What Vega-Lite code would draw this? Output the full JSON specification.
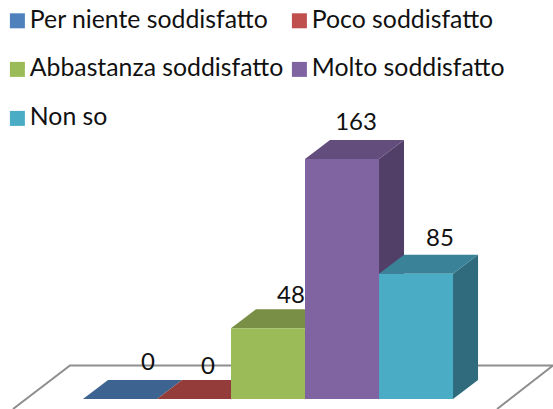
{
"$schema":"https://vega.github.io/schema/vega-lite/v6.json",
"width":553,"height":409,"padding":0,"autosize":{"type":"none"},
"background":"white","config":{"view":{"stroke":null}},
"datasets":{
"bars":[
{"category":"Per niente soddisfatto","pos":0,"value":0},
{"category":"Poco soddisfatto","pos":1,"value":0},
{"category":"Abbastanza soddisfatto","pos":2,"value":48},
{"category":"Molto soddisfatto","pos":3,"value":163},
{"category":"Non so","pos":4,"value":85}],
"floor":[
{"step":0,"u":-0.946,"v":-6.79},
{"step":1,"u":-0.176,"v":22.8},
{"step":2,"u":6.351,"v":22.8},
{"step":3,"u":5.595,"v":-6.79}]},
"resolve":{"scale":{"color":"independent"}},
"layer":[
{"data":{"name":"floor"},
"mark":{"type":"line","color":"#8e8e8e","strokeWidth":2,"clip":true},
"encoding":{
"x":{"field":"u","type":"quantitative","scale":{"domain":[-1.1216,6.351],"nice":false,"zero":false},"axis":null},
"y":{"field":"v","type":"quantitative","scale":{"domain":[-6.79,271],"nice":false,"zero":false},"axis":null},
"order":{"field":"step","type":"quantitative"}}},
{"data":{"name":"bars"},
"transform":[{"calculate":"[0,1]","as":"s"},{"flatten":["s"]},
{"calculate":"datum.pos+1+0.338*datum.s","as":"sx"},
{"calculate":"datum.value+12.9*datum.s","as":"sy"},
{"calculate":"12.9*datum.s","as":"sy2"}],
"mark":{"type":"area","interpolate":"linear"},
"encoding":{
"x":{"field":"sx","type":"quantitative","axis":null},
"y":{"field":"sy","type":"quantitative","stack":null,"axis":null},
"y2":{"field":"sy2"},
"color":{"field":"category","type":"nominal","legend":null,
"scale":{"domain":["Per niente soddisfatto","Poco soddisfatto","Abbastanza soddisfatto","Molto soddisfatto","Non so"],"range":["#2f4d71","#733130","#5d7135","#523f68","#2f6b7c"]}}}},
{"data":{"name":"bars"},
"transform":[{"calculate":"[0,1,2,3]","as":"t"},{"flatten":["t"]},
{"calculate":"datum.pos+[0,0.338,1,1.338][datum.t]","as":"tx"},
{"calculate":"datum.value+[0,12.9,12.9,12.9][datum.t]","as":"ty"},
{"calculate":"datum.value+[0,0,0,12.9][datum.t]","as":"ty2"}],
"mark":{"type":"area","interpolate":"linear"},
"encoding":{
"x":{"field":"tx","type":"quantitative","axis":null},
"y":{"field":"ty","type":"quantitative","stack":null,"axis":null},
"y2":{"field":"ty2"},
"color":{"field":"category","type":"nominal","legend":null,
"scale":{"domain":["Per niente soddisfatto","Poco soddisfatto","Abbastanza soddisfatto","Molto soddisfatto","Non so"],"range":["#3d6391","#943c3a","#788f45","#634d7d","#3a8298"]}}}},
{"data":{"name":"bars"},
"transform":[{"calculate":"datum.pos+1","as":"right"},{"calculate":"0","as":"base"}],
"mark":{"type":"rect"},
"encoding":{
"x":{"field":"pos","type":"quantitative","axis":null},
"x2":{"field":"right"},
"y":{"field":"value","type":"quantitative","axis":null},
"y2":{"field":"base"},
"color":{"field":"category","type":"nominal",
"scale":{"domain":["Per niente soddisfatto","Poco soddisfatto","Abbastanza soddisfatto","Molto soddisfatto","Non so"],"range":["#4f81bd","#c0504d","#9bbb59","#8064a2","#4bacc6"]},
"legend":{"title":null,"orient":"none","legendX":5,"legendY":8,"direction":"horizontal","columns":2,"gridAlign":"each","columnPadding":3,"rowPadding":23,"symbolType":"square","symbolSize":225,"symbolStrokeWidth":0,"labelFont":"Lato","labelFontSize":24.8,"labelColor":"#111111","labelOffset":0,"labelLimit":400}}}},
{"data":{"name":"bars"},
"transform":[{"calculate":"datum.pos+0.838","as":"lx"},{"calculate":"datum.value+12.9","as":"ly"}],
"mark":{"type":"text","font":"Lato","fontSize":24,"color":"#111111","baseline":"middle","align":"center",
"dx":{"expr":"[3,-11,-2,-11,-1][datum.pos]"},"dy":{"expr":"[-17,-13,-13,-17,-16][datum.pos]"}},
"encoding":{
"x":{"field":"lx","type":"quantitative","axis":null},
"y":{"field":"ly","type":"quantitative","axis":null},
"text":{"field":"value","type":"quantitative"}}}
]}
